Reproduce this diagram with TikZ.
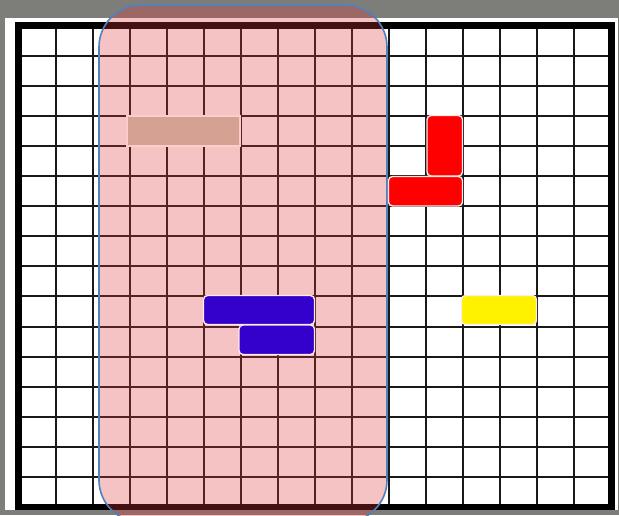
\documentclass[tikz,border=0pt]{standalone}
\definecolor{bggray}{RGB}{125,125,122}
\definecolor{zonefill}{RGB}{225,58,58}
\definecolor{zoneline}{RGB}{79,129,189}
\definecolor{tanfill}{RGB}{212,161,146}
\definecolor{tanline}{RGB}{250,205,205}
\definecolor{bluefill}{RGB}{51,0,204}
\definecolor{paleline}{RGB}{255,235,235}
\tikzset{
  gridline/.style={line width=2pt, black!90},
  gridframe/.style={line width=6.5pt, black},
  zone/.style={draw=zoneline, line width=1.6pt, fill=zonefill, fill opacity=0.3, rounded corners=42pt},
  piece/.style={draw=paleline, line width=1.4pt, rounded corners=4pt},
  tanpiece/.style={draw=tanline, line width=2pt, fill=tanfill},
}
\begin{document}
\begin{tikzpicture}[x=1pt,y=-1pt]
\useasboundingbox (0,0) rectangle (619,515);
\clip (0,0) rectangle (619,515);
% background
\fill[bggray] (0,0) rectangle (619,515);
\fill[white] (5,18) rectangle (618,510);
% grid
\foreach \i in {1,...,15} {
  \draw[gridline] ({18.5+37.06*\i},25.5) -- ({18.5+37.06*\i},507.1);
  \draw[gridline] (18.5,{25.5+30.1*\i}) -- (611.46,{25.5+30.1*\i});
}
\draw[gridframe] (18.5,25.5) rectangle (611.46,507.1);
% zone
\draw[zone] (99,5) rectangle (387,522);
% pieces
\draw[tanpiece] (127,115.5) rectangle (240,145.5);
\draw[piece, fill=red] (427,115.5) rectangle (462.5,176);
\draw[piece, fill=red] (388.5,176.5) rectangle (462.5,206);
\draw[piece, fill=bluefill] (203.5,295.5) rectangle (314.5,324.5);
\draw[piece, fill=bluefill] (239,325) rectangle (314.5,354.5);
\draw[piece, fill=yellow] (461.5,295.5) rectangle (536.5,324.5);
\end{tikzpicture}
\end{document}
